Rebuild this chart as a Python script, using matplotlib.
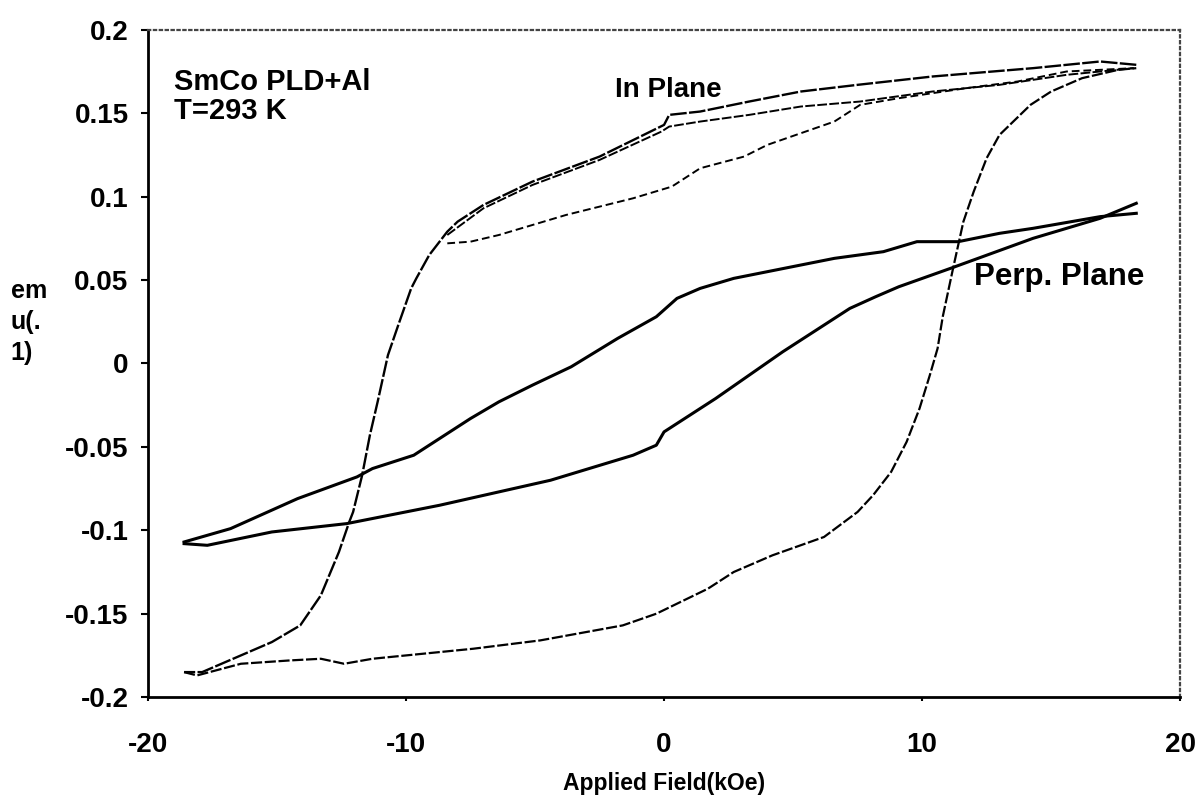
import matplotlib
matplotlib.use("Agg")
import matplotlib.pyplot as plt

plt.rcParams['font.family'] = ['Liberation Sans', 'DejaVu Sans']
plt.rcParams['font.weight'] = 'bold'

# in-plane loop, field decreasing (top line, then steep drop on the left)
ip_down_x = [18.3, 16.9, 14.3, 10.4, 7.5, 5.3, 3.3, 1.4, 0.2, 0.0, -2.5, -5.1, -7.0,
             -8.0, -8.4, -8.7, -9.1, -9.6, -9.8, -10.3, -10.7, -11.1, -11.4, -11.7,
             -12.05, -12.2, -12.6, -13.3, -14.1, -15.2, -16.7, -17.9, -18.6]
ip_down_y = [0.179, 0.181, 0.177, 0.172, 0.167, 0.163, 0.157, 0.151, 0.149, 0.143, 0.124,
             0.109, 0.095, 0.085, 0.079, 0.073, 0.065, 0.051, 0.045, 0.023, 0.005,
             -0.023, -0.043, -0.067, -0.089, -0.095, -0.113, -0.139, -0.157, -0.167,
             -0.177, -0.185, -0.185]

# in-plane loop, field increasing (bottom line, then steep rise on the right)
ip_up_x = [-18.6, -18.1, -16.4, -14.5, -13.3, -12.4, -11.3, -8.7, -7.4, -4.8, -1.6, -0.3,
           1.7, 2.3, 2.7, 4.2, 6.2, 7.5, 8.1, 8.8, 9.4, 9.9, 10.3, 10.6, 10.8, 11.2,
           11.6, 12.0, 12.5, 13.0, 14.2, 15.0, 16.2, 17.6, 18.3]
ip_up_y = [-0.185, -0.187, -0.180, -0.178, -0.177, -0.180, -0.177, -0.173, -0.171, -0.166,
           -0.157, -0.150, -0.135, -0.129, -0.125, -0.115, -0.104, -0.089, -0.079,
           -0.065, -0.047, -0.027, -0.007, 0.009, 0.028, 0.057, 0.085, 0.103, 0.123,
           0.137, 0.155, 0.163, 0.171, 0.176, 0.177]

# in-plane return curves starting near -8 kOe
ip_ret1_x = [-8.4, -7.0, -5.1, -2.5, -0.1, 0.2, 1.4, 3.3, 5.3, 7.6, 10.4, 13.0, 15.6, 18.2]
ip_ret1_y = [0.077, 0.093, 0.107, 0.122, 0.139, 0.142, 0.145, 0.149, 0.154, 0.157,
             0.163, 0.167, 0.173, 0.177]
ip_ret2_x = [-8.4, -7.5, -6.4, -3.8, -1.2, 0.3, 1.4, 3.1, 4.0, 6.6, 7.6, 9.1, 11.7,
             13.7, 15.6, 18.2]
ip_ret2_y = [0.072, 0.073, 0.077, 0.089, 0.099, 0.106, 0.117, 0.124, 0.131, 0.145,
             0.155, 0.159, 0.165, 0.169, 0.175, 0.177]

# perpendicular loop
pp_down_x = [18.3, 16.9, 14.3, 13.0, 11.4, 9.8, 8.5, 6.6, 2.7, 1.4, 0.5, -0.3, -1.8,
             -3.6, -5.1, -6.4, -7.5, -9.7, -11.3, -11.9, -14.2, -16.8, -17.7, -18.6]
pp_down_y = [0.090, 0.088, 0.081, 0.078, 0.073, 0.073, 0.067, 0.063, 0.051, 0.045,
             0.039, 0.028, 0.015, -0.002, -0.013, -0.023, -0.033, -0.055, -0.063,
             -0.068, -0.081, -0.099, -0.103, -0.107]
pp_up_x = [-18.6, -17.7, -15.2, -12.3, -8.7, -4.4, -1.2, -0.3, 0.0, 2.0, 4.6, 7.2, 8.2,
           9.1, 11.1, 14.3, 16.9, 18.3]
pp_up_y = [-0.108, -0.109, -0.101, -0.096, -0.085, -0.070, -0.055, -0.049, -0.041,
           -0.021, 0.007, 0.033, 0.040, 0.046, 0.057, 0.075, 0.087, 0.096]

x_ticks = [-20, -10, 0, 10, 20]
y_ticks = [-0.2, -0.15, -0.1, -0.05, 0, 0.05, 0.1, 0.15, 0.2]
y_labels = ['-0.2', '-0.15', '-0.1', '-0.05', '0', '0.05', '0.1', '0.15', '0.2']

fig = plt.figure(figsize=(12.03, 8.05), dpi=100)
ax = fig.add_axes([0.123, 0.134, 0.858, 0.829])

ax.plot(ip_down_x, ip_down_y, color='black', lw=1.7, linestyle=(0, (7, 1)))
ax.plot(ip_up_x, ip_up_y, color='black', lw=1.6, linestyle=(0, (5, 1.2)))
ax.plot(ip_ret1_x, ip_ret1_y, color='black', lw=1.4, linestyle=(0, (5, 1.2)))
ax.plot(ip_ret2_x, ip_ret2_y, color='black', lw=1.4, linestyle=(0, (4, 2)))
ax.plot(pp_down_x, pp_down_y, color='black', lw=2.2)
ax.plot(pp_up_x, pp_up_y, color='black', lw=2.2)

ax.set_xlim(-20, 20)
ax.set_ylim(-0.2, 0.2)
ax.set_xticks(x_ticks)
ax.set_xticklabels([str(v) for v in x_ticks])
ax.set_yticks(y_ticks)
ax.set_yticklabels(y_labels)
ax.tick_params(axis='y', direction='out', length=5, width=1.5, pad=9, labelsize=20)
ax.tick_params(axis='x', direction='out', length=3, width=1.5, pad=22, labelsize=20)

for s in ['left', 'bottom']:
    ax.spines[s].set_linewidth(2)
for s in ['top', 'right']:
    ax.spines[s].set_linestyle(':')
    ax.spines[s].set_color('#444444')
    ax.spines[s].set_linewidth(1.6)

ax.set_xlabel('Applied Field(kOe)', fontsize=16.5, fontweight='bold', labelpad=10)
fig.text(0.009, 0.60, 'em\nu(.\n1)', fontsize=18, fontweight='bold',
         ha='left', va='center', linespacing=1.35)

ax.text(-19.0, 0.160, 'SmCo PLD+Al\nT=293 K', fontsize=21, fontweight='bold',
        ha='left', va='center', linespacing=1.05)
ax.text(-1.9, 0.164, 'In Plane', fontsize=20, fontweight='bold', ha='left', va='center')
ax.text(12.0, 0.052, 'Perp. Plane', fontsize=22.5, fontweight='bold', ha='left', va='center')

fig.savefig('out.png', dpi=100)
